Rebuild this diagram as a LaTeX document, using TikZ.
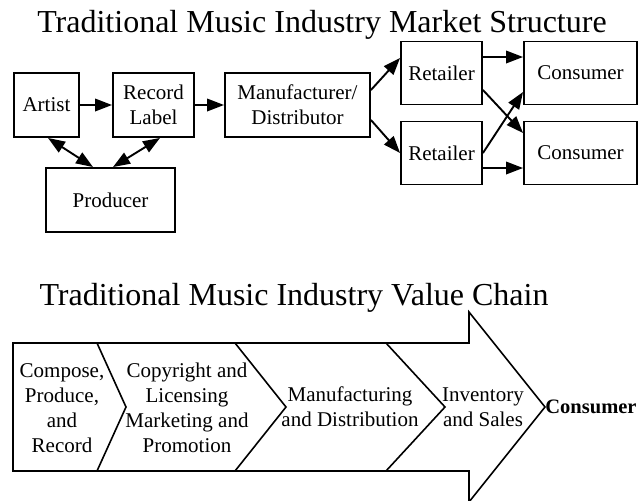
\documentclass[tikz,border=0pt]{standalone}
\usepackage{fontspec}
\setmainfont{Liberation Serif}
\usetikzlibrary{arrows.meta,calc}
\tikzset{
  box/.style={draw,line width=1.9pt,rectangle,inner sep=1pt,align=center,font=\fontsize{21}{25}\selectfont},
  arr/.style={line width=1.9pt,-{Triangle[length=17pt,width=12.5pt]}},
  darr/.style={line width=1.9pt,{Triangle[length=17pt,width=12.5pt]}-{Triangle[length=17pt,width=12.5pt]}},
  ttl/.style={font=\fontsize{32}{38}\selectfont,anchor=base,inner sep=0pt},
  vtxt/.style={align=center,inner sep=0pt,font=\fontsize{21}{25}\selectfont},
  chain/.style={line width=1.6pt,line join=miter}
}
\begin{document}
\begin{tikzpicture}[x=1pt,y=-1pt]
\useasboundingbox[fill=white] (0,0) rectangle (641,501);
% titles
\node[ttl] (t1) at (322,32) {Traditional Music Industry Market Structure};
\node[ttl] (t2) at (294,305) {Traditional Music Industry Value Chain};
% market structure boxes
\node[box,minimum width=65pt,minimum height=64pt] (artist) at (46.5,105) {Artist};
\node[box,minimum width=81pt,minimum height=64pt] (label) at (153.5,105) {Record\\Label};
\node[box,minimum width=145pt,minimum height=64pt] (manu) at (297.5,105) {Manufacturer/\\Distributor};
\node[box,minimum width=129pt,minimum height=64pt] (prod) at (110.5,200) {Producer};
\node[box,minimum width=81pt,minimum height=63pt] (ret1) at (441.5,73) {Retailer};
\node[box,minimum width=81pt,minimum height=63pt] (ret2) at (441.5,153) {Retailer};
\node[box,minimum width=113pt,minimum height=63pt] (con1) at (580.5,73) {Consumer};
\node[box,minimum width=113pt,minimum height=63pt] (con2) at (580.5,153) {Consumer};
% connectors
\draw[arr] (artist.east) -- (label.west);
\draw[arr] (label.east) -- (manu.west);
\draw[arr] ([yshift=15pt]manu.east) -- ([yshift=15pt]ret1.west);
\draw[arr] ([yshift=-15pt]manu.east) -- (ret2.west);
\draw[arr] ([yshift=16pt]ret1.east) -- ([yshift=16pt]con1.west);
\draw[arr] ([yshift=-17pt]ret1.east) -- ([yshift=20pt]con2.west);
\draw[arr] (ret2.east) -- ([yshift=-19pt]con1.west);
\draw[arr] ([yshift=-15pt]ret2.east) -- ([yshift=-15pt]con2.west);
\draw[darr] ([xshift=1.5pt]artist.south) -- ([xshift=-17.5pt]prod.north);
\draw[darr] ([xshift=6.5pt]label.south) -- ([xshift=2.5pt]prod.north);
% value chain arrow
\draw[chain] (13,343) -- (469,343) -- (469,312) -- (545,407) -- (469,502) -- (469,471) -- (13,471) -- cycle;
\draw[chain] (97,343) -- (126,407) -- (97,471);
\draw[chain] (235,343) -- (286,407) -- (235,471);
\draw[chain] (386,343) -- (445,407) -- (386,471);
\node[vtxt] (v1) at (62,408) {Compose,\\Produce,\\and\\Record};
\node[vtxt] (v2) at (187,408) {Copyright and\\Licensing\\Marketing and\\Promotion};
\node[vtxt] (v3) at (350,407) {Manufacturing\\and Distribution};
\node[vtxt] (v4) at (483,407) {Inventory\\and Sales};
\node[vtxt,font=\fontsize{20.5}{25}\selectfont\bfseries] (v5) at (591,407) {Consumer};
\end{tikzpicture}
\end{document}
